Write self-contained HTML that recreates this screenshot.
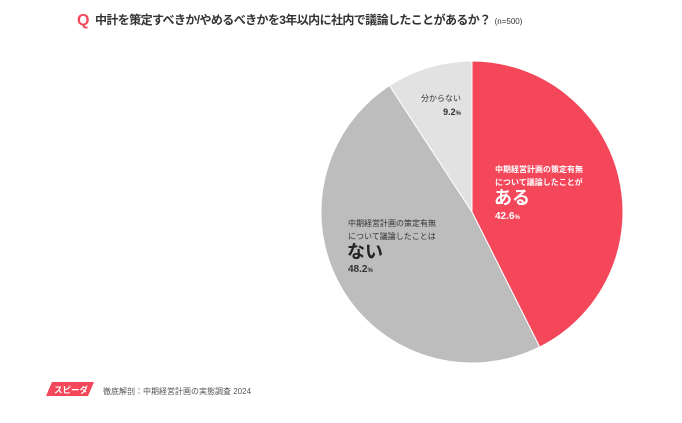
<!DOCTYPE html>
<html><head><meta charset="utf-8"><style>
body{margin:0;width:682px;height:418px;background:#fff;overflow:hidden;font-family:"Liberation Sans","Noto Sans CJK JP",sans-serif;}
svg text{font-family:"Liberation Sans","Noto Sans CJK JP",sans-serif;}
</style></head><body>
<svg width="682" height="418">
<text x="77" y="25" fill="#f4475a" font-size="16" font-weight="bold">Q</text>
<text x="95" y="24" fill="#333" font-size="12" font-weight="bold" letter-spacing="-0.6">中計を策定すべきか/やめるべきかを3年以内に社内で議論したことがあるか？<tspan font-size="8" font-weight="normal" letter-spacing="0" dx="4">(n=500)</tspan></text>
<g id="pie"></g>
<g id="labels"></g>
<polygon points="52,382 94,382 88,396 46,396" fill="#f4475a"/>
<text x="54" y="393" fill="#fff" font-size="8.5" font-weight="bold">スピーダ</text>
<text x="103" y="394" fill="#555" font-size="8">徹底解剖：中期経営計画の実態調査 2024</text>
</svg>
<script>
const categories=["ある","ない","分からない"];
const values=[42.6,48.2,9.2];
const colors=["#f4475a","#bdbdbd","#e2e2e2"];
const cx=472,cy=212,r=151;
const g=document.getElementById('pie');
const total=values.reduce((a,b)=>a+b,0);
let a0=0;
function pt(a,rr){return [cx+rr*Math.sin(a),cy-rr*Math.cos(a)];}
values.forEach((v,i)=>{
 const a1=a0+v/total*2*Math.PI;
 const p0=pt(a0,r),p1=pt(a1,r);
 const p=document.createElementNS('http://www.w3.org/2000/svg','path');
 p.setAttribute('d',`M${cx},${cy}L${p0[0]},${p0[1]}A${r},${r} 0 ${a1-a0>Math.PI?1:0} 1 ${p1[0]},${p1[1]}Z`);
 p.setAttribute('fill',colors[i]);p.setAttribute('stroke','#fff');p.setAttribute('stroke-width','1');
 
 
 g.appendChild(p);
 a0=a1;
});
const L=document.getElementById('labels');
function t(x,y,s,size,fill,w,name,anchor){
 const e=document.createElementNS('http://www.w3.org/2000/svg','text');
 e.setAttribute('x',x);e.setAttribute('y',y);e.setAttribute('font-size',size);e.setAttribute('fill',fill);
 if(w)e.setAttribute('font-weight','bold');if(anchor)e.setAttribute('text-anchor',anchor);
 e.innerHTML=s;
 
 
 L.appendChild(e);
}
t(495,172,'中期経営計画の策定有無',8,'#fff',1,'label-yes-line1');
t(495,185,'について議論したことが',8,'#fff',1,'label-yes-line2');
t(494,204,categories[0],18,'#fff',1,'label-yes-title');
t(495,219,values[0].toFixed(1)+'<tspan font-size="6">%</tspan>',10,'#fff',1,'label-yes-value');
t(348,226,'中期経営計画の策定有無',8,'#333',0,'label-no-line1');
t(348,239,'について議論したことは',8,'#333',0,'label-no-line2');
t(347,258,categories[1],18,'#222',1,'label-no-title');
t(348,272,values[1].toFixed(1)+'<tspan font-size="6">%</tspan>',10,'#333',1,'label-no-value');
t(461,101,categories[2],8,'#333',0,'label-unknown','end');
t(461,115,values[2].toFixed(1)+'<tspan font-size="6">%</tspan>',9,'#333',1,'label-unknown-value','end');
</script>
</body></html>
